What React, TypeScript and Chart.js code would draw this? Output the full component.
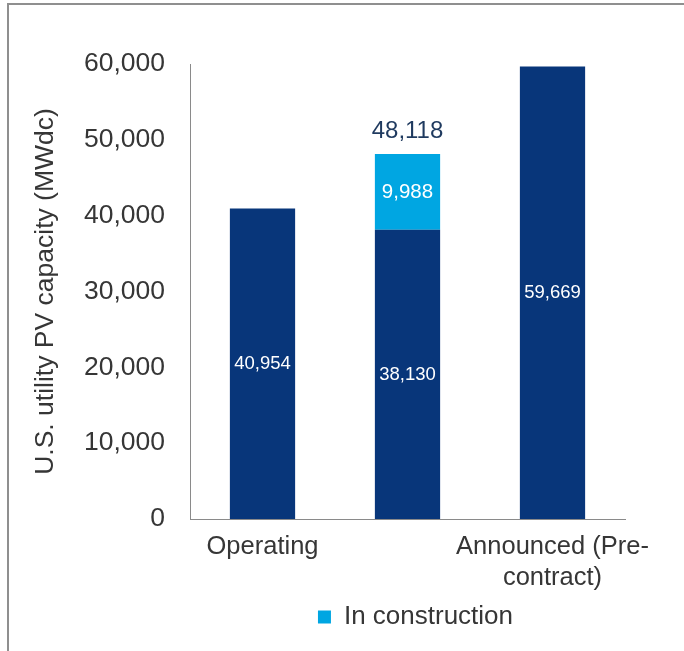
import React, { useEffect, useRef } from "react";
import { Chart, registerables } from "chart.js";

Chart.register(...registerables);

const categories = ["Operating", "In construction", "Announced (Pre-contract)"];
const tickLabels = [["Operating"], [""], ["Announced (Pre-", "contract)"]];
const baseValues = [40954, 38130, 59669];
const constructionValues = [null, 9988, null];
const totals = [null, 48118, null];
const yTicks = [0, 10000, 20000, 30000, 40000, 50000, 60000];

const FONT = "'Liberation Sans', Arial, sans-serif";
const NAVY = "#08367A";
const CYAN = "#00A6E2";
const TEXT = "#363636";
const AXIS = "#8a8a8a";

const fmt = (v: number) => v.toLocaleString("en-US");

const labelPlugin = {
  id: "barLabels",
  afterDatasetsDraw(chart: any) {
    const ctx = chart.ctx;
    ctx.save();
    ctx.textAlign = "center";
    ctx.textBaseline = "middle";
    chart.data.datasets.forEach((ds: any, di: number) => {
      const meta = chart.getDatasetMeta(di);
      meta.data.forEach((el: any, i: number) => {
        const v = ds.data[i];
        if (v == null) return;
        const { x, y, base } = el.getProps(["x", "y", "base"], true);
        ctx.fillStyle = "#ffffff";
        ctx.font = `${di === 0 ? 18.5 : 20.5}px ${FONT}`;
        ctx.fillText(fmt(v), x, (y + base) / 2);
      });
    });
    const topMeta = chart.getDatasetMeta(1);
    totals.forEach((t, i) => {
      if (t == null) return;
      const el: any = topMeta.data[i];
      const { x, y } = el.getProps(["x", "y"], true);
      ctx.fillStyle = "#1f3a5f";
      ctx.font = `24px ${FONT}`;
      ctx.fillText(fmt(t), x, y - 23);
    });
    ctx.restore();
  },
};

const legendShift = {
  id: "legendShift",
  afterLayout(chart: any) {
    if (chart.legend) {
      chart.legend.left += 8;
      chart.legend.right += 8;
    }
  },
};

export default function App() {
  const ref = useRef<HTMLCanvasElement | null>(null);
  useEffect(() => {
    if (!ref.current) return;
    const chart = new Chart(ref.current, {
      type: "bar",
      data: {
        labels: categories,
        datasets: [
          {
            label: "Operating / base",
            data: baseValues,
            backgroundColor: NAVY,
            barPercentage: 0.45,
            categoryPercentage: 1,
          },
          {
            label: "In construction",
            data: constructionValues as any,
            backgroundColor: CYAN,
            barPercentage: 0.45,
            categoryPercentage: 1,
          },
        ],
      },
      options: {
        animation: false,
        responsive: false,
        maintainAspectRatio: false,
        layout: { padding: { left: 10, right: 59, top: 64, bottom: 11 } },
        plugins: {
          tooltip: { enabled: false },
          legend: {
            position: "bottom",
            fullSize: false,
            labels: {
              filter: (item: any) => item.datasetIndex === 1,
              boxWidth: 13,
              boxHeight: 13,
              padding: 10,
              color: TEXT,
              font: { family: FONT, size: 26 },
            },
          },
        },
        scales: {
          x: {
            stacked: true,
            grid: { display: false, drawTicks: false, tickLength: 0 },
            border: { display: true, color: AXIS, width: 1 },
            ticks: {
              autoSkip: false,
              maxRotation: 0,
              minRotation: 0,
              padding: 13,
              color: TEXT,
              font: { family: FONT, size: 25.5 },
              callback: (_v: any, i: number) => tickLabels[i],
            },
            afterFit: (scale: any) => {
              scale.height = 75;
            },
          },
          y: {
            stacked: true,
            min: yTicks[0],
            max: yTicks[yTicks.length - 1],
            afterBuildTicks: (scale: any) => {
              scale.ticks = yTicks.map((v) => ({ value: v }));
            },
            grid: { display: false, drawTicks: false, tickLength: 0 },
            border: { display: true, color: AXIS, width: 1 },
            ticks: {
              padding: 25,
              color: TEXT,
              font: { family: FONT, size: 26.5 },
              callback: (v: any) => fmt(Number(v)),
            },
            title: {
              display: true,
              text: "U.S. utility PV capacity (MWdc)",
              color: TEXT,
              font: { family: FONT, size: 26.5 },
              padding: { top: 20, bottom: 0 },
            },
            afterFit: (scale: any) => {
              scale.width = 180;
            },
          },
        },
      },
      plugins: [labelPlugin, legendShift],
    });
    return () => chart.destroy();
  }, []);

  return (
    <div
      style={{
        position: "absolute",
        left: 0,
        top: 0,
        width: 684,
        height: 651,
        overflow: "hidden",
        background: "#ffffff",
      }}
    >
      <div
        style={{
          position: "absolute",
          left: 7,
          top: 3,
          width: 720,
          height: 700,
          borderTop: "2px solid #8f8f8f",
          borderLeft: "2px solid #8f8f8f",
        }}
      />
      <canvas
        ref={ref}
        width={684}
        height={651}
        style={{ position: "absolute", left: 0, top: 0, width: 684, height: 651 }}
      />
    </div>
  );
}
